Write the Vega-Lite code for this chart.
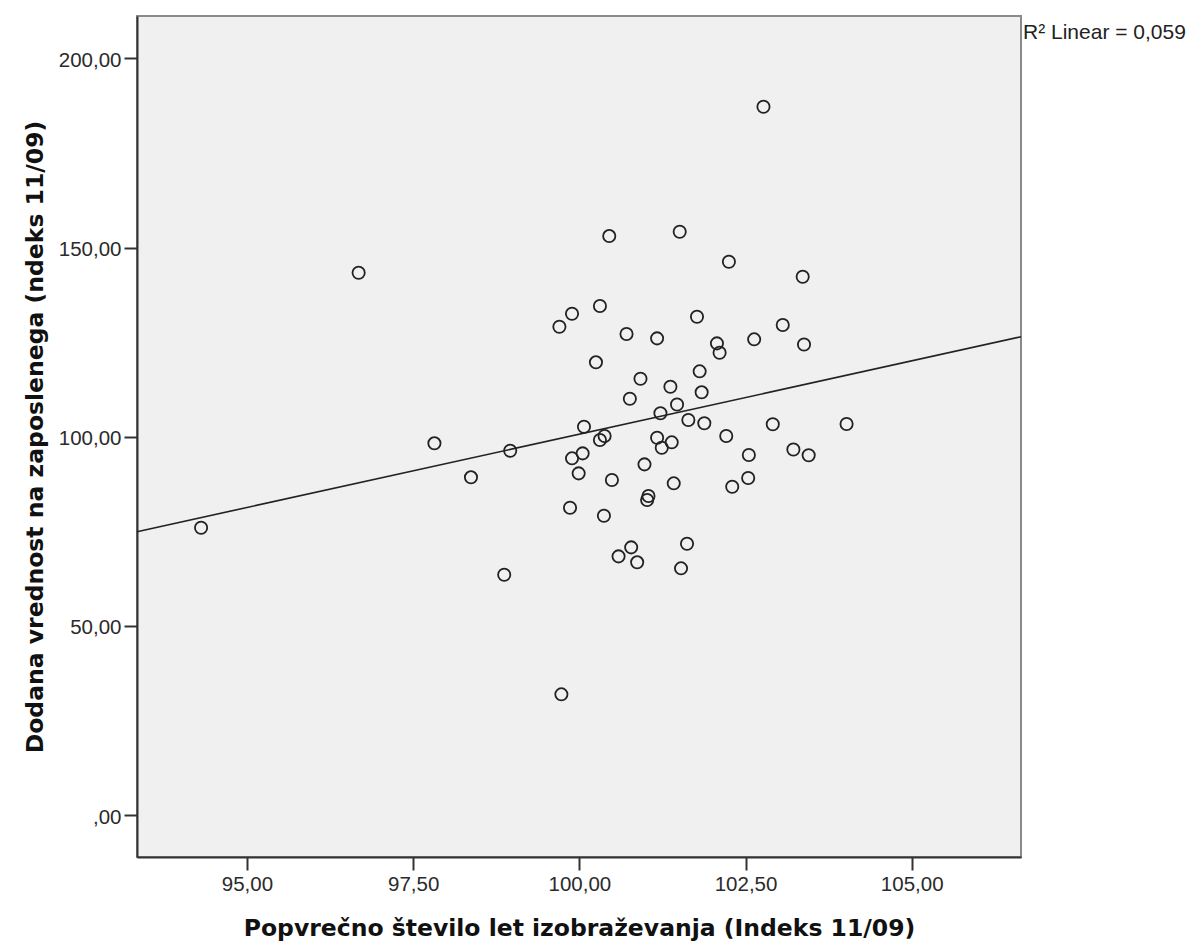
{
  "$schema": "https://vega.github.io/schema/vega-lite/v6.json",
  "width": 884,
  "height": 841,
  "autosize": {"type": "none"},
  "padding": {"left": 137, "top": 16, "right": 166, "bottom": 87},
  "background": "white",
  "config": {
    "view": {"fill": "#f0f0f0", "stroke": "#8a8a8a", "strokeWidth": 2},
    "axis": {
      "grid": false,
      "domainColor": "#333333",
      "domainWidth": 2,
      "tickColor": "#333333",
      "tickWidth": 2,
      "tickSize": 13,
      "labelFont": "Liberation Sans",
      "labelFontSize": 20.5,
      "labelColor": "#2b2b2b",
      "labelPadding": 3,
      "titleFont": "DejaVu Sans",
      "titleFontWeight": "bold",
      "titleFontSize": 23.5,
      "titleColor": "#111111"
    }
  },
  "datasets": {
    "points": [
      {"x": 100.45, "y": 153.05}, {"x": 101.51, "y": 154.19}, {"x": 102.25, "y": 146.26},
      {"x": 103.36, "y": 142.3}, {"x": 99.89, "y": 132.5}, {"x": 100.31, "y": 134.55},
      {"x": 99.70, "y": 129.08}, {"x": 101.77, "y": 131.72}, {"x": 103.06, "y": 129.53},
      {"x": 100.71, "y": 127.15}, {"x": 101.17, "y": 126.01}, {"x": 102.07, "y": 124.69},
      {"x": 102.11, "y": 122.2}, {"x": 102.63, "y": 125.75}, {"x": 103.38, "y": 124.37},
      {"x": 100.25, "y": 119.67}, {"x": 101.81, "y": 117.29}, {"x": 100.92, "y": 115.33},
      {"x": 101.37, "y": 113.22}, {"x": 100.76, "y": 110.05}, {"x": 101.84, "y": 111.74},
      {"x": 101.47, "y": 108.51}, {"x": 101.22, "y": 106.21}, {"x": 101.64, "y": 104.41},
      {"x": 101.88, "y": 103.57}, {"x": 102.91, "y": 103.3}, {"x": 104.02, "y": 103.36},
      {"x": 100.07, "y": 102.64}, {"x": 98.96, "y": 96.3}, {"x": 100.31, "y": 99.13},
      {"x": 100.38, "y": 100.19}, {"x": 101.17, "y": 99.74}, {"x": 101.24, "y": 97.09},
      {"x": 101.39, "y": 98.52}, {"x": 102.21, "y": 100.19}, {"x": 102.55, "y": 95.16},
      {"x": 103.22, "y": 96.62}, {"x": 103.45, "y": 95.11}, {"x": 99.89, "y": 94.29},
      {"x": 100.05, "y": 95.61}, {"x": 99.99, "y": 90.32}, {"x": 100.98, "y": 92.7},
      {"x": 100.49, "y": 88.55}, {"x": 101.42, "y": 87.68}, {"x": 102.30, "y": 86.78},
      {"x": 102.54, "y": 89.08}, {"x": 101.04, "y": 84.32}, {"x": 101.02, "y": 83.27},
      {"x": 99.86, "y": 81.23}, {"x": 100.37, "y": 79.12}, {"x": 100.78, "y": 70.76},
      {"x": 100.59, "y": 68.38}, {"x": 100.87, "y": 66.8}, {"x": 101.62, "y": 71.72},
      {"x": 101.53, "y": 65.21}, {"x": 98.87, "y": 63.52}, {"x": 94.31, "y": 75.95},
      {"x": 97.82, "y": 98.26}, {"x": 98.37, "y": 89.27}, {"x": 96.68, "y": 143.35},
      {"x": 99.73, "y": 31.9}, {"x": 102.77, "y": 187.23}
    ],
    "fit": [
      {"x": 93.346, "y": 74.89},
      {"x": 106.644, "y": 126.43}
    ],
    "label": [
      {"x": 106.644, "y": 206.7, "text": "R² Linear = 0,059"}
    ]
  },
  "encoding": {
    "x": {
      "field": "x",
      "type": "quantitative",
      "scale": {"domain": [93.346, 106.644], "nice": false, "zero": false},
      "axis": {
        "title": "Popvrečno število let izobraževanja (Indeks 11/09)",
        "values": [95, 97.5, 100, 102.5, 105],
        "labelExpr": "datum.value == 0 ? ',00' : replace(format(datum.value, '.2f'), '.', ',')",
        "labelPadding": 4,
        "titlePadding": 22
      }
    },
    "y": {
      "field": "y",
      "type": "quantitative",
      "scale": {"domain": [-11.1, 211.23], "nice": false, "zero": false},
      "axis": {
        "title": "Dodana vrednost na zaposlenega (ndeks 11/09)",
        "values": [0, 50, 100, 150, 200],
        "labelExpr": "datum.value == 0 ? ',00' : replace(format(datum.value, '.2f'), '.', ',')",
        "labelOffset": 2,
        "titlePadding": 11
      }
    }
  },
  "layer": [
    {
      "data": {"name": "fit"},
      "mark": {"type": "line", "color": "#222222", "strokeWidth": 1.6}
    },
    {
      "data": {"name": "points"},
      "mark": {"type": "point", "shape": "circle", "filled": false, "size": 150, "stroke": "#222222", "strokeWidth": 1.8, "opacity": 1}
    },
    {
      "data": {"name": "label"},
      "mark": {"type": "text", "align": "left", "baseline": "middle", "dx": 2, "font": "Liberation Sans", "fontSize": 21, "color": "#222222"},
      "encoding": {"text": {"field": "text", "type": "nominal"}}
    }
  ]
}
